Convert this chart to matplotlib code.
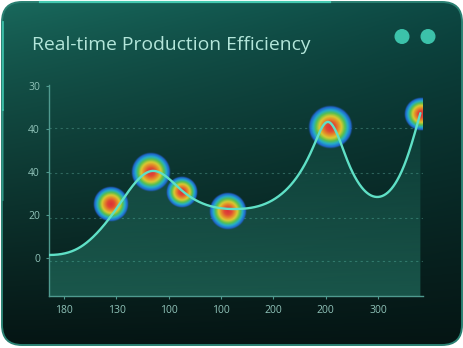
import numpy as np
import matplotlib
matplotlib.use("Agg")
import matplotlib.pyplot as plt
from matplotlib.patches import FancyBboxPatch, Circle, Polygon
from matplotlib.colors import LinearSegmentedColormap

# ── data ──────────────────────────────────────────────────────────────────────
x_labels = ["180", "130", "100", "100", "200", "200", "300"]
y_labels = ["0", "20", "40", "40", "30"]
y_ticks = [0, 20, 40, 60, 80]
grid_levels = [-1.4, 18.6, 39.5, 60.5]

# efficiency curve (x in category units)
curve_x = [-0.29, 0.31, 0.98, 1.68, 2.26, 3.31, 4.13, 4.76, 5.03, 5.41, 6.00, 6.56, 6.81]
curve_y = [1.4, 5.1, 22.3, 40.5, 31.2, 22.8, 29.3, 51.6, 63.3, 45.6, 28.4, 47.0, 67.4]

# heat spots
heat_x = [0.90, 1.66, 2.26, 3.14, 5.09, 6.83]
heat_y = [25.1, 40.0, 30.7, 21.9, 60.9, 67.0]
heat_r = [18, 20, 16, 19, 22, 17]     # spot radius in px

# ── palette ───────────────────────────────────────────────────────────────────
LINE_COLOR = "#5fe0c6"
AXIS_COLOR = "#4f9a8f"
LABEL_COLOR = "#8fc2b8"
TITLE_COLOR = "#b3e6da"
DOT_COLOR = "#3cc2aa"
HEAT_CMAP = LinearSegmentedColormap.from_list("heat", [
    (0.00, "#2458c8"), (0.10, "#2272d8"), (0.22, "#26b4d4"), (0.35, "#5cc850"),
    (0.50, "#e6d232"), (0.65, "#f08a2a"), (0.80, "#ec4a34"), (1.00, "#e8303a")])
W, H = 464, 348


def spline(x, y, xs):
    # cubic spline, flat start, natural end
    x = np.asarray(x, float)
    y = np.asarray(y, float)
    n = len(x)
    h = np.diff(x)
    d = np.diff(y) / h
    A = np.zeros((n, n))
    b = np.zeros(n)
    A[0, 0], A[0, 1], b[0] = 2 * h[0], h[0], 6 * d[0]
    for i in range(1, n - 1):
        A[i, i - 1] = h[i - 1]
        A[i, i] = 2 * (h[i - 1] + h[i])
        A[i, i + 1] = h[i]
        b[i] = 6 * (d[i] - d[i - 1])
    A[-1, -1] = 1
    M = np.linalg.solve(A, b)
    i = np.clip(np.searchsorted(x, xs) - 1, 0, n - 2)
    a = x[i + 1] - xs
    c = xs - x[i]
    hh = h[i]
    return (M[i] * a**3 / (6 * hh) + M[i + 1] * c**3 / (6 * hh)
            + (y[i] / hh - M[i] * hh / 6) * a + (y[i + 1] / hh - M[i + 1] * hh / 6) * c)


fig = plt.figure(figsize=(W / 100, H / 100), dpi=100)
fig.patch.set_facecolor("white")

# ── background panel ──────────────────────────────────────────────────────────
bg = fig.add_axes([0, 0, 1, 1])
bg.set_xlim(0, W)
bg.set_ylim(H, 0)
bg.axis("off")

yy, xx = np.mgrid[0:H, 0:W]
u = xx / W
v = yy / H
top = np.array([0.10, 0.42, 0.37])[None, None, :] * (1 - u[..., None]) + \
      np.array([0.05, 0.29, 0.27])[None, None, :] * u[..., None]
bottom = np.array([0.02, 0.08, 0.075])
f = (v ** 0.8)[..., None]
img = top * (1 - f) + bottom * f
panel = FancyBboxPatch((2, 2), W - 4, H - 5, boxstyle="round,pad=0,rounding_size=20",
                       facecolor="none", edgecolor="#2a8072", linewidth=1.4, zorder=3)
bg.add_patch(panel)
im = bg.imshow(img, extent=(0, W, H, 0), zorder=1)
im.set_clip_path(panel)
# glowing edges
bg.plot([3.0, 3.0], [22, 110], color="#45d6bc", lw=1.3, alpha=0.8, zorder=4)
bg.plot([3.0, 3.0], [110, 200], color="#45d6bc", lw=1.3, alpha=0.35, zorder=4)
bg.plot([40, 330], [2.4, 2.4], color="#4fe3c6", lw=1.6, alpha=0.75, zorder=4)

bg.text(32, 45, "Real-time Production Efficiency", color=TITLE_COLOR, fontsize=13.9,
        family="Open Sans", va="center", ha="left")
for cx in (402, 428):
    bg.add_patch(Circle((cx, 36.5), 6.8, color=DOT_COLOR, zorder=5))

# ── chart ─────────────────────────────────────────────────────────────────────
ax_w, ax_h = 374, 211
ax = fig.add_axes([49 / W, 52 / H, ax_w / W, ax_h / H])
ax.patch.set_alpha(0)
x0, x1 = -0.29, 6.86
y0, y1 = -17.7, 80.5

for s in ("top", "right"):
    ax.spines[s].set_visible(False)
for s in ("left", "bottom"):
    ax.spines[s].set_color(AXIS_COLOR)
    ax.spines[s].set_linewidth(1.0)

ax.set_xticks(range(len(x_labels)))
ax.set_xticklabels(x_labels)
ax.set_yticks(y_ticks)
ax.set_yticklabels(y_labels)
ax.tick_params(colors=AXIS_COLOR, labelcolor=LABEL_COLOR, labelsize=7.5, length=2.5,
               width=0.8, pad=4)
for lab in ax.get_xticklabels() + ax.get_yticklabels():
    lab.set_family("Open Sans")

for g in grid_levels:
    ax.axhline(g, color="#5aa497", lw=0.8, ls=(0, (2, 3)), alpha=0.45, zorder=1)

xs = np.linspace(curve_x[0], curve_x[-1], 800)
ys = spline(curve_x, curve_y, xs)

# gradient area under the curve
poly = Polygon(np.column_stack([np.r_[xs, xs[-1], xs[0]], np.r_[ys, y0, y0]]),
               closed=True, facecolor="none", edgecolor="none")
ax.add_patch(poly)
grad = np.zeros((200, 2, 4))
grad[..., 0] = 0.25
grad[..., 1] = 0.78
grad[..., 2] = 0.66
grad[..., 3] = np.linspace(0.34, 0.05, 200)[:, None]
gim = ax.imshow(grad, extent=(x0, x1, 70, y0), aspect="auto", zorder=2)
gim.set_clip_path(poly)

# heat spots: radial gradient, radius given in pixels
px_x = ax_w / (x1 - x0)
px_y = ax_h / (y1 - y0)
n = 81
gy, gx = np.mgrid[-1:1:n * 1j, -1:1:n * 1j]
rho = np.sqrt(gx**2 + gy**2)
spot = HEAT_CMAP(np.clip(1 - rho, 0, 1))
spot[..., 3] = np.clip((1.0 - rho) / 0.08, 0, 1) * 0.95
for hx, hy, r in zip(heat_x, heat_y, heat_r):
    ax.imshow(spot, extent=(hx - r / px_x, hx + r / px_x, hy - r / px_y, hy + r / px_y),
              aspect="auto", zorder=4, interpolation="bilinear")

ax.plot(xs, ys, color=LINE_COLOR, lw=1.7, zorder=5, solid_capstyle="round")
ax.set_xlim(x0, x1)
ax.set_ylim(y0, y1)

fig.savefig("out.png", dpi=100, facecolor="white")
